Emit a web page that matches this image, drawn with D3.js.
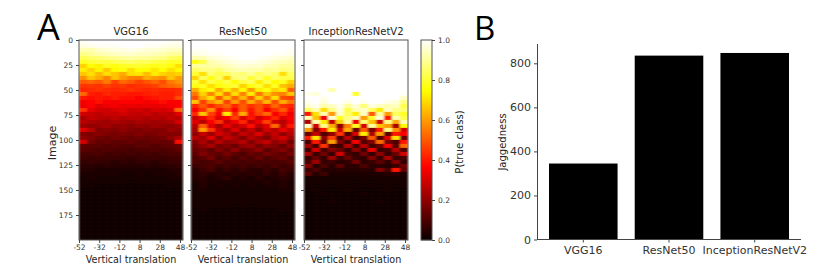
<!DOCTYPE html>
<html lang="en">
<head>
  <title>Jaggedness</title>
  <meta charset="utf-8" />
  <script src="https://d3js.org/d3.v7.min.js"></script>
  <style>
    html, body { margin: 0; background: #fff; }
    text { font-family: "DejaVu Sans", sans-serif; fill: #262626; }
    .letter { font-family: "Open Sans", sans-serif; fill: #000; }
    .axis path, .axis line { stroke: #444; }
    .axis text { fill: #333; }
  </style>
</head>
<body>
<svg id="chart" width="831" height="279"></svg>
<script>
// values, in percent. one row per 4 images, one column per 8 px of translation
var translations = [-52,-44,-36,-28,-20,-12,-4,4,12,20,28,36,44];
var imageRows = d3.range(0, 200, 4);
var models = ["VGG16", "ResNet50", "InceptionResNetV2"];
var jaggedness = [345, 835, 847];
var xTicks = [-52,-32,-12,8,28,48];
var yTicks = [0,25,50,75,100,125,150,175];
var cbarTicks = [0,0.2,0.4,0.6,0.8,1];

var vgg16 = [
[99,100,100,100,100,100,100,100,100,100,100,99,99],
[97,98,99,99,99,100,100,100,99,99,98,97,97],
[93,92,95,96,97,97,98,97,96,96,95,94,94],
[88,90,92,93,94,95,95,94,94,93,92,90,90],
[83,85,86,88,89,90,91,90,90,89,88,85,83],
[78,80,82,81,83,84,85,83,84,82,81,79,79],
[68,75,73,78,76,78,79,80,78,77,78,76,70],
[72,68,73,67,74,76,70,75,74,71,75,70,74],
[66,70,64,70,66,62,70,71,65,72,68,66,68],
[58,66,62,56,66,60,56,55,62,60,58,66,60],
[50,52,50,55,46,52,50,46,49,52,48,55,58],
[44,45,44,46,44,45,43,44,45,46,50,52,54],
[42,43,44,43,42,43,44,43,42,43,42,42,43],
[52,41,40,42,41,41,40,40,41,42,41,41,43],
[40,38,40,39,41,38,39,37,39,40,41,41,48],
[35,37,38,36,35,37,36,37,35,37,38,36,36],
[34,36,32,34,35,33,34,33,34,33,34,35,37],
[44,33,30,29,31,32,29,30,28,31,30,32,52],
[30,28,27,29,28,30,28,27,29,26,28,27,32],
[24,28,26,25,27,25,26,26,24,26,25,28,26],
[26,24,23,22,24,23,22,24,23,22,23,24,30],
[22,20,21,23,20,21,19,21,20,22,21,20,22],
[32,26,18,19,18,20,18,17,19,18,18,22,20],
[18,17,19,17,16,17,16,18,16,17,19,18,18],
[20,18,15,14,16,15,14,15,14,15,16,20,24],
[30,16,13,14,12,13,14,12,13,14,13,14,38],
[13,12,12,11,12,11,11,12,12,11,12,13,14],
[12,11,10,11,10,10,9,10,10,11,10,11,12],
[9,9,10,8,9,8,9,8,9,8,9,10,10],
[8,7,8,7,7,7,6,7,7,8,7,8,8],
[6,7,6,6,5,6,5,6,6,5,6,7,7],
[5,5,4,5,4,4,4,4,5,4,5,5,6],
[4,4,3,3,3,3,3,3,3,3,3,4,4],
[3,3,3,3,3,2,2,3,2,3,3,3,4],
[2,3,2,2,2,2,2,2,2,2,2,3,3],
[2,2,2,2,2,2,1,2,2,2,2,2,2],
[2,2,1,1,1,1,1,1,1,1,1,2,2],
[1,1,1,1,1,1,1,1,1,1,1,1,1],
[1,1,1,1,1,1,1,1,1,1,1,1,1],
[1,1,1,1,1,1,1,1,1,1,1,1,1],
[1,1,1,1,1,1,1,1,1,1,1,1,1],
[1,1,1,1,1,1,1,1,1,1,1,1,1],
[1,1,1,1,1,1,1,1,1,1,1,1,1],
[1,1,1,1,1,1,1,1,1,1,1,1,1],
[1,1,1,1,1,1,1,1,1,1,1,1,1],
[1,1,1,1,1,1,1,1,1,1,1,1,1],
[1,1,1,1,1,1,1,1,1,1,1,1,1],
[1,1,1,1,1,1,1,1,1,1,1,1,1],
[1,1,1,1,1,1,1,1,1,1,1,1,1],
[1,1,1,1,1,1,1,1,1,1,1,1,1]
];

var resnet50 = [
[100,100,100,100,100,100,100,100,100,100,100,100,100],
[100,100,100,100,100,100,100,100,100,100,100,100,100],
[99,99,100,100,100,100,100,100,100,100,100,100,99],
[97,98,99,99,100,100,100,100,100,100,99,99,98],
[92,93,96,97,98,99,100,100,99,98,97,96,95],
[76,82,92,94,96,97,98,98,97,96,94,93,92],
[90,90,91,92,93,95,96,95,95,93,92,90,90],
[84,88,88,86,90,92,93,92,92,89,90,87,88],
[80,70,86,82,84,88,86,90,84,88,85,70,84],
[68,84,76,84,68,86,88,80,86,78,84,82,82],
[80,70,82,78,82,74,82,84,72,82,74,78,68],
[76,78,70,76,78,80,68,76,80,70,78,66,62],
[62,72,76,62,72,64,74,60,72,76,68,72,50],
[54,68,56,70,54,70,56,72,54,66,58,56,66],
[48,62,70,50,66,52,64,50,68,54,70,48,46],
[66,46,58,64,46,60,48,62,52,64,48,62,54],
[42,50,42,48,52,42,50,44,48,42,52,44,42],
[36,44,58,38,46,36,50,40,48,36,44,50,38],
[42,66,46,36,72,42,62,38,46,52,36,42,34],
[28,34,42,32,36,46,32,40,30,36,42,32,36],
[32,26,36,44,28,34,42,28,34,46,30,26,34],
[26,50,32,24,34,26,30,38,26,32,52,28,40],
[24,60,44,28,22,32,22,28,20,30,26,34,28],
[20,28,22,30,26,20,28,24,32,22,28,20,26],
[26,22,32,20,28,24,18,26,22,18,26,30,22],
[18,24,18,26,20,22,26,18,24,28,20,24,16],
[16,20,24,16,18,14,20,22,16,20,18,14,20],
[14,16,12,18,14,20,14,16,20,12,16,18,14],
[12,18,14,12,16,12,10,14,12,16,14,12,16],
[10,12,16,10,12,9,12,10,14,10,12,14,10],
[10,9,10,12,9,10,9,10,9,10,9,10,12],
[7,9,10,7,9,7,9,7,9,7,10,7,9],
[5,7,9,5,7,5,7,5,5,7,5,9,7],
[4,6,4,5,4,5,4,5,4,6,4,7,5],
[4,5,3,4,6,3,4,3,5,3,4,5,4],
[3,4,3,3,3,3,3,3,3,4,3,4,3],
[2,4,2,3,2,3,2,3,2,3,3,4,3],
[2,3,2,2,2,2,2,2,2,2,2,3,3],
[2,2,2,2,2,2,2,2,2,2,2,2,2],
[2,2,2,2,2,2,2,2,2,2,2,2,2],
[2,2,2,2,2,2,2,2,2,2,2,2,2],
[2,2,2,2,2,1,2,1,2,2,2,2,2],
[1,2,1,1,1,1,1,1,1,1,1,2,2],
[1,1,1,1,1,1,1,1,1,1,1,1,1],
[1,1,1,1,1,1,1,1,1,1,1,1,1],
[1,1,1,1,1,1,1,1,1,1,1,1,1],
[1,1,1,1,1,1,1,1,1,1,1,1,1],
[1,1,1,1,1,1,1,1,1,1,1,1,1],
[1,1,1,1,1,1,1,1,1,1,1,1,1],
[1,1,1,1,1,1,1,1,1,1,1,1,1]
];

var inception = [
[100,100,100,100,100,100,100,100,100,100,100,100,100],
[100,100,100,100,100,100,100,100,100,100,100,100,100],
[100,100,100,100,100,100,100,100,100,100,100,100,100],
[100,100,100,100,100,100,100,100,100,100,100,100,100],
[100,100,100,100,100,100,100,100,100,100,100,100,100],
[100,100,100,100,100,100,100,100,100,100,100,100,100],
[100,100,100,100,100,100,100,100,100,100,100,100,100],
[100,100,100,100,100,100,100,100,100,100,100,100,100],
[100,100,100,100,100,100,100,100,100,100,100,100,100],
[100,100,100,100,100,100,100,100,100,100,100,100,100],
[100,100,100,100,100,100,100,100,100,100,100,100,100],
[100,100,100,100,100,100,100,100,100,100,100,100,100],
[100,100,100,92,100,100,100,100,100,100,100,100,100],
[98,96,100,100,100,100,80,100,100,100,100,100,99],
[100,100,98,100,100,100,100,100,100,100,100,100,94],
[98,100,96,100,100,97,100,98,100,100,98,96,88],
[96,98,92,94,98,90,96,86,97,94,92,94,82],
[84,92,70,88,96,82,92,95,84,72,94,88,86],
[40,70,92,60,94,84,72,94,50,90,60,84,78],
[92,66,35,96,78,88,94,60,80,96,40,92,82],
[25,92,72,28,68,90,35,86,66,30,88,62,92],
[94,30,88,62,20,55,78,30,90,66,60,24,74],
[60,18,40,72,30,62,14,50,16,40,88,58,30],
[14,28,10,20,44,10,30,72,25,60,12,40,36],
[40,70,20,46,10,26,8,16,50,10,32,70,14],
[9,40,14,60,18,8,36,10,18,52,16,10,40],
[22,9,44,10,7,26,8,26,8,14,36,12,52],
[7,30,9,18,14,6,20,7,34,7,9,26,10],
[24,7,15,6,30,9,6,15,6,20,6,14,30],
[6,14,6,22,7,14,7,6,18,6,24,7,9],
[9,22,6,8,5,6,16,5,7,12,6,18,6],
[18,5,10,5,12,5,5,10,5,5,4,7,15],
[7,10,4,4,5,4,4,5,4,18,9,40,12],
[12,4,8,3,3,3,3,3,3,3,4,5,3],
[2,2,2,2,2,2,2,2,2,2,2,2,2],
[2,2,2,2,2,2,1,2,1,2,2,2,2],
[2,1,2,1,2,1,2,1,2,1,2,1,2],
[1,2,1,1,1,2,1,1,1,1,2,1,1],
[1,1,2,1,1,1,1,2,1,1,1,1,1],
[1,1,1,1,1,1,1,1,1,1,1,1,1],
[1,1,1,2,1,1,1,1,1,2,1,1,1],
[1,1,1,1,1,1,1,1,1,1,1,1,1],
[1,1,1,1,1,1,1,1,1,1,1,1,1],
[1,1,1,1,1,1,1,1,1,1,1,1,1],
[1,1,1,1,1,1,1,1,1,1,1,1,1],
[1,1,1,1,1,1,1,1,1,1,1,1,1],
[1,1,1,1,1,1,1,1,1,1,1,1,1],
[1,1,1,1,1,1,1,1,1,1,1,1,1],
[1,1,1,1,1,1,1,1,1,1,1,1,1],
[1,1,1,1,1,1,1,1,1,1,1,1,1]
];

var svg = d3.select("#chart");
var heatTop = 40, heatBottom = 240;
var panelLefts = [79, 191, 304], panelWidth = 104;

// matplotlib "hot"
var hot = d3.scaleLinear()
  .domain([0, 0.365, 0.746, 1])
  .range(["#0b0000", "#ff0000", "#ffff00", "#ffffff"])
  .clamp(true);

var yScale = d3.scaleLinear().domain([0, 200]).range([heatTop, heatBottom]);

// smears the cells sideways into stripes, the photo of the figure is soft as well
svg.append("defs").append("filter")
  .attr("id", "smear")
  .attr("filterUnits", "objectBoundingBox")
  .attr("x", 0).attr("y", 0).attr("width", 1).attr("height", 1)
  .append("feGaussianBlur")
  .attr("stdDeviation", "1.3 0.4")
  .attr("edgeMode", "duplicate");

[vgg16, resnet50, inception].forEach(function(grid, p) {
  var left = panelLefts[p];
  var xBand = d3.scaleBand().domain(translations).range([left, left + panelWidth]);
  var xScale = d3.scaleLinear().domain([-52, 51]).range([left, left + panelWidth]);
  var g = svg.append("g").attr("filter", "url(#smear)");

  grid.forEach(function(row, r) {
    g.selectAll(null)
      .data(row)
      .enter().append("rect")
      .attr("x", function(d, i) { return xBand(translations[i]); })
      .attr("y", yScale(imageRows[r]))
      .attr("width", xBand.bandwidth())
      .attr("height", yScale(4) - yScale(0))
      .attr("fill", function(d) { return hot(d / 100); })
      .attr("stroke", function(d) { return hot(d / 100); })
      .attr("stroke-width", 0.2);
  });

  svg.append("rect")
    .attr("x", left).attr("y", heatTop)
    .attr("width", panelWidth).attr("height", heatBottom - heatTop)
    .attr("fill", "none").attr("stroke", "#555");

  svg.append("g").attr("class", "axis")
    .attr("transform", "translate(0," + heatBottom + ")")
    .call(d3.axisBottom(xScale).tickValues(xTicks).tickSize(3).tickPadding(2).tickFormat(function(d) { return String(d); }))
    .call(function(a) { a.select(".domain").remove(); })
    .selectAll("text").style("font-size", "7.5px");

  svg.append("g").attr("class", "axis")
    .attr("transform", "translate(" + left + ",0)")
    .call(d3.axisLeft(yScale).tickValues(yTicks).tickSize(3).tickPadding(3)
      .tickFormat(p == 0 ? d3.format("d") : ""))
    .call(function(a) { a.select(".domain").remove(); })
    .selectAll("text").style("font-size", "7.5px");

  svg.append("text")
    .attr("x", left + panelWidth / 2).attr("y", 35)
    .attr("text-anchor", "middle")
    .style("font-size", "10px")
    .text(models[p]);

  svg.append("text")
    .attr("x", left + panelWidth / 2).attr("y", 263)
    .attr("text-anchor", "middle")
    .style("font-size", "9.6px")
    .text("Vertical translation");
});

svg.append("text")
  .attr("transform", "translate(56,143) rotate(-90)")
  .attr("text-anchor", "middle")
  .style("font-size", "11px")
  .text("Image");

// colorbar
var cbarLeft = 421, cbarWidth = 11;
var cbarScale = d3.scaleLinear().domain([0, 1]).range([heatBottom, heatTop]);
svg.append("g").selectAll("rect")
  .data(d3.range(0, 1, 0.005))
  .enter().append("rect")
  .attr("x", cbarLeft)
  .attr("y", function(d) { return cbarScale(d + 0.005); })
  .attr("width", cbarWidth)
  .attr("height", cbarScale(0) - cbarScale(0.005) + 0.3)
  .attr("fill", function(d) { return hot(d); });
svg.append("rect")
  .attr("x", cbarLeft).attr("y", heatTop)
  .attr("width", cbarWidth).attr("height", heatBottom - heatTop)
  .attr("fill", "none").attr("stroke", "#555");
svg.append("g").attr("class", "axis")
  .attr("transform", "translate(" + (cbarLeft + cbarWidth) + ",0)")
  .call(d3.axisRight(cbarScale).tickValues(cbarTicks).tickSize(3).tickPadding(3).tickFormat(d3.format(".1f")))
  .call(function(a) { a.select(".domain").remove(); })
  .selectAll("text").style("font-size", "7.5px");
svg.append("text")
  .attr("transform", "translate(463,142) rotate(-90)")
  .attr("text-anchor", "middle")
  .style("font-size", "10.2px")
  .text("P(true class)");

// panel B
var barX = d3.scaleBand().domain(models)
  .range([549, 789]).paddingInner(0.2).paddingOuter(0);
var barY = d3.scaleLinear().domain([0, 890]).range([239.5, 43.5]);

svg.append("g").selectAll("rect")
  .data(jaggedness)
  .enter().append("rect")
  .attr("x", function(d, i) { return barX(models[i]); })
  .attr("y", function(d) { return barY(d); })
  .attr("width", barX.bandwidth())
  .attr("height", function(d) { return barY(0) - barY(d); })
  .attr("fill", "#000");

svg.append("g").attr("class", "axis")
  .attr("transform", "translate(537,0)")
  .call(d3.axisLeft(barY).tickValues([0,200,400,600,800]).tickSize(3).tickPadding(3).tickSizeOuter(0))
  .selectAll("text").style("font-size", "11px");

var barAxis = svg.append("g").attr("class", "axis")
  .attr("transform", "translate(0,239.5)")
  .call(d3.axisBottom(barX).tickSize(3).tickPadding(4).tickSizeOuter(0));
barAxis.selectAll("text").style("font-size", "11px");
barAxis.select(".domain").attr("d", "M537,0H801");

svg.append("text")
  .attr("transform", "translate(506,142) rotate(-90)")
  .attr("text-anchor", "middle")
  .style("font-size", "10px")
  .text("Jaggedness");

svg.append("text").attr("class", "letter").attr("x", 37).attr("y", 40).style("font-size", "36px").text("A");
svg.append("text").attr("class", "letter").attr("x", 474).attr("y", 40).style("font-size", "33px").text("B");
</script>
</body>
</html>
